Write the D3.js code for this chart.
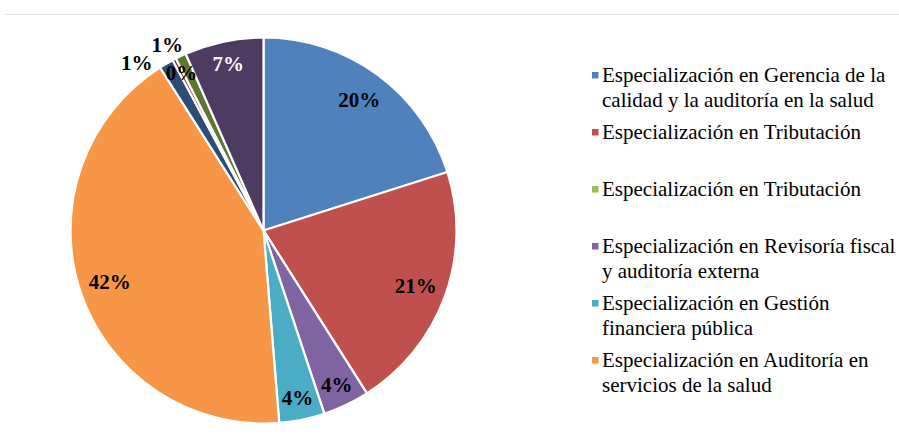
<!DOCTYPE html>
<html>
<head>
<meta charset="utf-8">
<script src="https://cdn.jsdelivr.net/npm/d3@7"></script>
<style>
  body { margin: 0; background: #fff; }
  svg { display: block; }
</style>
</head>
<body>
<script>
// Data (percent of total)
const categories = [
  "Especialización en Gerencia de la calidad y la auditoría en la salud",
  "Especialización en Tributación",
  "Especialización en Tributación",
  "Especialización en Revisoría fiscal y auditoría externa",
  "Especialización en Gestión financiera pública",
  "Especialización en Auditoría en servicios de la salud",
  "Categoría 7",
  "Categoría 8",
  "Categoría 9",
  "Categoría 10"
];
const values = [20.1, 20.9, 0, 3.9, 3.8, 42.3, 1.2, 0.3, 0.9, 6.6];
const colors = ["#4F81BD", "#C0504D", "#9BBB59", "#8064A2", "#4BACC6",
                "#F79646", "#2C4D75", "#772C2A", "#5F7530", "#4D3B62"];
const legendCount = 6; // the legend only shows the first six entries

const width = 899, height = 439;
const cx = 263.5, cy = 230.5, radius = 193;
const serif = '"Liberation Serif", "Times New Roman", serif';

const svg = d3.select("body").append("svg")
  .attr("width", width)
  .attr("height", height);

// thin rule at the top
svg.append("line")
  .attr("x1", 5).attr("x2", width)
  .attr("y1", 14.5).attr("y2", 14.5)
  .attr("stroke", "#e3e3e3").attr("stroke-width", 1);

const data = categories.map((c, i) => ({name: c, value: values[i], color: colors[i]}));
const total = d3.sum(values);

const pie = d3.pie().sort(null).value(d => d.value);
const arcs = pie(data);
const arc = d3.arc().innerRadius(0).outerRadius(radius);

const g = svg.append("g").attr("transform", `translate(${cx},${cy})`);

g.selectAll("path.slice")
  .data(arcs)
  .join("path")
  .attr("class", "slice")
  .attr("d", arc)
  .attr("fill", d => d.data.color)
  .attr("stroke", "#fff")
  .attr("stroke-width", 2.2)
  .attr("stroke-linejoin", "miter");

// label placement (Excel best-fit look): small slices nudged / pushed out
const labelNudge = {6: {r: 1.09, da: -6.8}, 7: {r: 0.92, da: 0}, 8: {r: 1.085, da: -2}};
function labelPos(d, i) {
  const pct = d.data.value / total;
  let rf = pct < 0.08 ? 0.885 : 0.84;
  let da = 0;
  if (labelNudge[i]) { rf = labelNudge[i].r; da = labelNudge[i].da; }
  const a = (d.startAngle + d.endAngle) / 2 + da * Math.PI / 180;
  return [Math.sin(a) * radius * rf, -Math.cos(a) * radius * rf];
}

g.selectAll("text.lbl")
  .data(arcs.map((d, i) => ({d, i})).filter(o => o.d.data.value > 0))
  .join("text")
  .attr("class", "lbl")
  .attr("transform", o => `translate(${labelPos(o.d, o.i)})`)
  .attr("text-anchor", "middle")
  .attr("dy", "0.35em")
  .style("font-family", serif)
  .style("font-weight", "bold")
  .style("font-size", "21px")
  .attr("fill", o => o.i === 9 ? "#fff" : "#000")
  .text(o => Math.round(o.d.data.value / total * 100) + "%");

// legend
const legendX = 592, legendY0 = 82, slot = 57, lineH = 25, maxW = 300;
const legend = svg.append("g");

data.slice(0, legendCount).forEach((d, i) => {
  const y = legendY0 + i * slot;
  legend.append("rect")
    .attr("x", legendX).attr("y", y - 10)
    .attr("width", 6.5).attr("height", 6.5)
    .attr("fill", d.color);
  const t = legend.append("text")
    .attr("x", legendX + 10).attr("y", y)
    .style("font-family", serif)
    .style("font-size", "21px")
    .attr("fill", "#000");
  // word wrap to maxW
  const words = d.name.split(" ");
  let line = [], lineNo = 0;
  let tspan = t.append("tspan").attr("x", legendX + 10).attr("y", y);
  words.forEach(w => {
    line.push(w);
    tspan.text(line.join(" "));
    if (tspan.node().getComputedTextLength() > maxW && line.length > 1) {
      line.pop();
      tspan.text(line.join(" "));
      line = [w];
      lineNo++;
      tspan = t.append("tspan").attr("x", legendX + 10).attr("y", y + lineNo * lineH).text(w);
    }
  });
});
</script>
</body>
</html>
